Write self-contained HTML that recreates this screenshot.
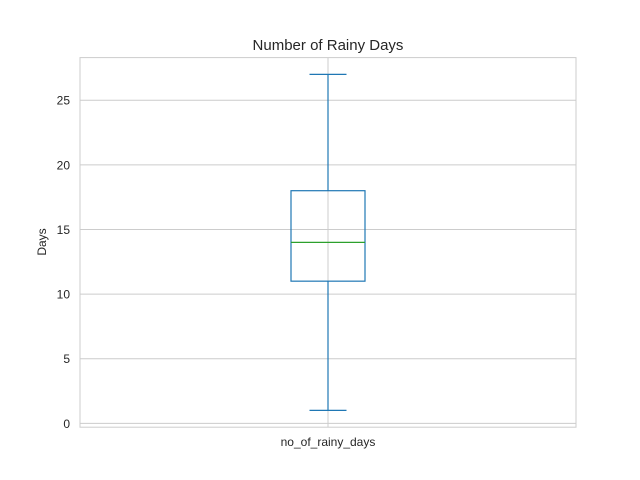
<!DOCTYPE html>
<html><head><meta charset="utf-8"><style>
body{margin:0;background:#fff;}
svg{display:block;font-family:"Liberation Sans","DejaVu Sans",sans-serif;}
</style></head><body>
<svg id="chart" width="640" height="480">
<text x="328" y="50" text-anchor="middle" font-size="15" fill="#262626">Number of Rainy Days</text>
<text transform="translate(46,242) rotate(-90)" text-anchor="middle" font-size="12" fill="#262626">Days</text>
<g id="grid"></g>
<g id="marks"></g>
<rect x="80" y="57.6" width="496" height="369.6" fill="none" stroke="#cccccc" stroke-width="1"/>
</svg>
<script>
const categories = ["no_of_rainy_days"];
const whiskerLow = [1];
const q1 = [11];
const median = [14];
const q3 = [18];
const whiskerHigh = [27];
const yTicks = [0, 5, 10, 15, 20, 25];

const NS = "http://www.w3.org/2000/svg";
const plotLeft = 80, plotRight = 576, plotTop = 57.6, plotBottom = 427.2;
const yMin = -0.3, yMax = 28.3;
function yScale(v){ return plotBottom - (v - yMin) / (yMax - yMin) * (plotBottom - plotTop); }
function xScale(i){ return plotLeft + (i + 0.5) * (plotRight - plotLeft) / categories.length; }
function mk(tag, attrs, parent){ const e = document.createElementNS(NS, tag); for (const k in attrs) e.setAttribute(k, attrs[k]); parent.appendChild(e); return e; }

const grid = document.getElementById("grid");
const marks = document.getElementById("marks");
yTicks.forEach(t => {
  const l = mk("line", {x1: plotLeft, x2: plotRight, y1: yScale(t), y2: yScale(t), stroke: "#cccccc", "stroke-width": 1}, grid);
  
  
  const tx = mk("text", {x: 70, y: yScale(t) + 4.5, "text-anchor": "end", "font-size": 12, fill: "#262626"}, grid);
  tx.textContent = t;
  
  
});
categories.forEach((c, i) => {
  const cx = xScale(i);
  const vl = mk("line", {x1: cx, x2: cx, y1: plotTop, y2: plotBottom, stroke: "#cccccc", "stroke-width": 1}, grid);
  
  
  const lab = mk("text", {x: cx, y: 446, "text-anchor": "middle", "font-size": 12, fill: "#262626"}, grid);
  lab.textContent = c;
  
  
  const bw = 37, cw = 18.5, col = "#1f77b4";
  const w1 = mk("line", {x1: cx, x2: cx, y1: yScale(q1[i]), y2: yScale(whiskerLow[i]), stroke: col, "stroke-width": 1.2}, marks);
  
  
  const w2 = mk("line", {x1: cx, x2: cx, y1: yScale(q3[i]), y2: yScale(whiskerHigh[i]), stroke: col, "stroke-width": 1.2}, marks);
  
  
  const c1 = mk("line", {x1: cx - cw, x2: cx + cw, y1: yScale(whiskerLow[i]), y2: yScale(whiskerLow[i]), stroke: col, "stroke-width": 1.2}, marks);
  
  
  const c2 = mk("line", {x1: cx - cw, x2: cx + cw, y1: yScale(whiskerHigh[i]), y2: yScale(whiskerHigh[i]), stroke: col, "stroke-width": 1.2}, marks);
  
  
  const b = mk("rect", {x: cx - bw, y: yScale(q3[i]), width: 2 * bw, height: yScale(q1[i]) - yScale(q3[i]), fill: "none", stroke: col, "stroke-width": 1.2}, marks);
  
  
  const m = mk("line", {x1: cx - bw, x2: cx + bw, y1: yScale(median[i]), y2: yScale(median[i]), stroke: "#2ca02c", "stroke-width": 1.2}, marks);
  
  
});
</script>
</body></html>
